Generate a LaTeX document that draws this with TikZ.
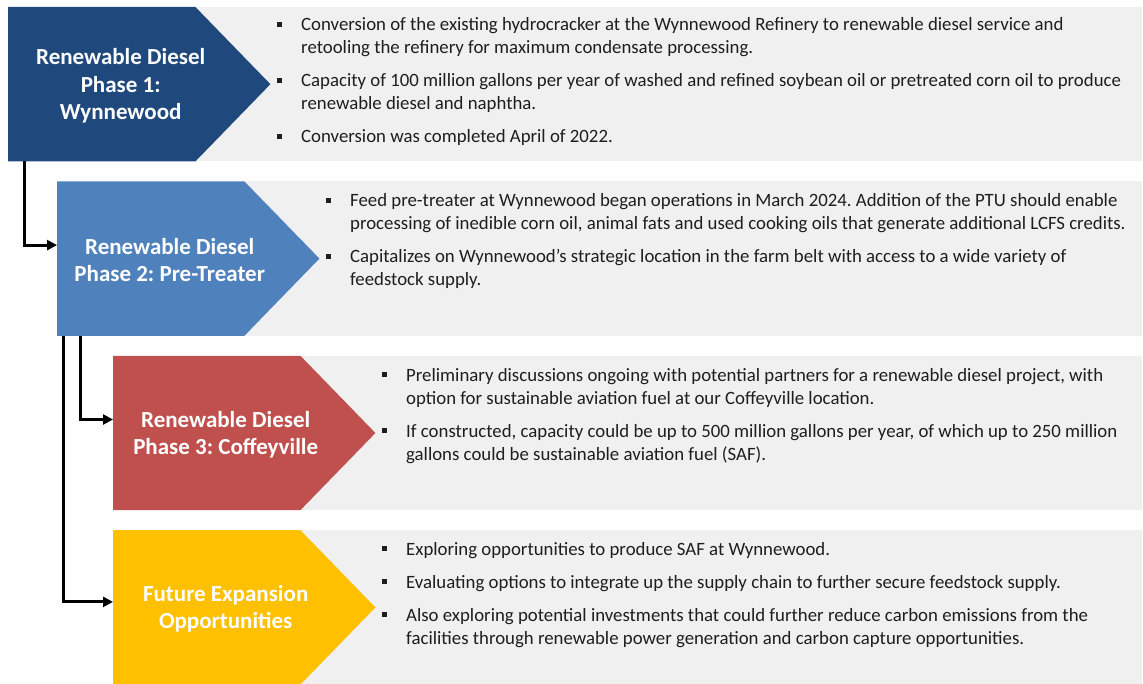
\documentclass[tikz,border=0pt]{standalone}
\usepackage{fontspec}
\setmainfont{Carlito}
\usepackage{xcolor}
\usetikzlibrary{arrows.meta,positioning}
\definecolor{PhaseOne}{RGB}{31,73,125}
\definecolor{PhaseTwo}{RGB}{79,129,189}
\definecolor{PhaseThree}{RGB}{192,80,77}
\definecolor{PhaseFour}{RGB}{255,192,0}
\definecolor{BandGray}{RGB}{240,240,240}
\definecolor{BodyText}{RGB}{30,30,30}
\newcommand{\bul}{\leavevmode\llap{\rule[4pt]{5pt}{5pt}\hspace{19pt}}}
\frenchspacing
\tikzset{
  every node/.style={
    font=\fontsize{18.8}{23}\selectfont
  },
  phase/.style={
    shape=rectangle,
    minimum width=187pt,
    minimum height=154pt,
    inner sep=0pt,
    anchor=north west
  },
  title/.style={
    text=white,
    align=center,
    font=\bfseries\fontsize{23}{27.5}\selectfont
  },
  bullets/.style={
    anchor=base west,
    align=left,
    inner sep=0pt,
    text=BodyText
  },
  link/.style={
    line width=3pt,
    -{Triangle[length=10pt,width=10pt]}
  }
}

\begin{document}
\begin{tikzpicture}[x=1pt,y=-1pt]
\useasboundingbox (0,0) rectangle (1143,684);
\coordinate (edge) at (1142,0);

\node [phase] (ph1) at (8,7) {};
\node [phase, below right=20pt and 49pt of ph1.south west] (ph2) {};
\node [phase, below right=20pt and 56pt of ph2.south west] (ph3) {};
\node [phase, below right=20pt and 0pt of ph3.south west] (ph4) {};

\foreach \p/\c in {ph1/PhaseOne,ph2/PhaseTwo,ph3/PhaseThree,ph4/PhaseFour}{
  \fill [BandGray] (\p.north east) rectangle (\p.south -| edge);
  \fill [\c] (\p.north west) -- (\p.north east) -- ([xshift=75pt]\p.east)
    -- (\p.south east) -- (\p.south west) -- cycle;
}

\node [title] (t1) at ([xshift=19pt,yshift=-2pt]ph1.center) {Renewable Diesel\\Phase 1:\\Wynnewood};
\node [title] (t2) at ([xshift=19pt,yshift=-1.5pt]ph2.center) {Renewable Diesel\\Phase 2: Pre-Treater};
\node [title] (t3) at ([xshift=19pt,yshift=-1.5pt]ph3.center) {Renewable Diesel\\Phase 3: Coffeyville};
\node [title] (t4) at ([xshift=19pt,yshift=-1.5pt]ph4.center) {Future Expansion\\Opportunities};

\node [bullets] (b1) at (301,143) {
\bul Conversion of the existing hydrocracker at the Wynnewood Refinery to renewable diesel service and\\
retooling the refinery for maximum condensate processing.\\[10pt]
\bul Capacity of 100 million gallons per year of washed and refined soybean oil or pretreated corn oil to produce\\
renewable diesel and naphtha.\\[10pt]
\bul Conversion was completed April of 2022.};

\node [bullets] (b2) at (350,286) {
\bul Feed pre-treater at Wynnewood began operations in March 2024. Addition of the PTU should enable\\
processing of inedible corn oil, animal fats and used cooking oils that generate additional LCFS credits.\\[10pt]
\bul Capitalizes on Wynnewood’s strategic location in the farm belt with access to a wide variety of\\
feedstock supply.};

\node [bullets] (b3) at (406,460) {
\bul Preliminary discussions ongoing with potential partners for a renewable diesel project, with\\
option for sustainable aviation fuel at our Coffeyville location.\\[10pt]
\bul If constructed, capacity could be up to 500 million gallons per year, of which up to 250 million\\
gallons could be sustainable aviation fuel (SAF).};

\node [bullets] (b4) at (406,644) {
\bul Exploring opportunities to produce SAF at Wynnewood.\\[10pt]
\bul Evaluating options to integrate up the supply chain to further secure feedstock supply.\\[10pt]
\bul Also exploring potential investments that could further reduce carbon emissions from the\\
facilities through renewable power generation and carbon capture opportunities.};

\draw [link] ([xshift=16pt]ph1.south west) |- ([yshift=13.5pt]ph2.west);
\draw [link] ([xshift=23pt]ph2.south west) |- ([yshift=13.5pt]ph3.west);
\draw [link] ([xshift=6pt]ph2.south west) |- ([yshift=5.5pt]ph4.west);
\end{tikzpicture}
\end{document}
